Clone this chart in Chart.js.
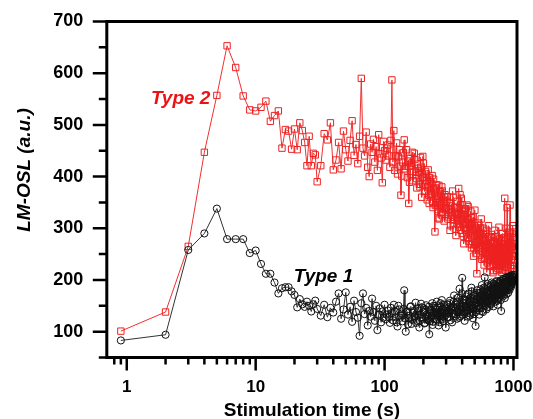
<!DOCTYPE html>
<html>
<head>
<meta charset="utf-8" />
<title>LM-OSL</title>
<script src="https://cdn.jsdelivr.net/npm/chart.js@4.4.0/dist/chart.umd.min.js"></script>
<style>
  html, body { margin: 0; padding: 0; background: #fff; }
  #wrap { width: 533px; height: 419px; }
</style>
</head>
<body>
<div id="wrap"><canvas id="osl" width="533" height="419"></canvas></div>
<script>
"use strict";

// stimulation time (s), shared by both curves
const stimTime = [
  0.9, 2, 3, 4, 5, 6, 7, 8, 9, 10, 11, 12, 13, 14, 15, 16, 17, 18, 19, 20,
  21, 22, 23, 24, 25, 26, 27, 28, 29, 30,
  32, 34, 36, 38, 40, 42, 44, 46, 48, 50, 52, 54, 56, 58, 60, 62, 64, 66, 68, 70,
  72, 74, 76, 78, 80, 82, 84, 86, 88, 90, 92, 94, 96, 98, 100,
  102, 104, 106, 108, 110, 112, 114, 116, 118, 120, 122, 124, 126, 128, 130, 132, 134, 136, 138, 140,
  142, 144, 146, 148, 150, 152, 154, 156, 158, 160, 162, 164, 166, 168, 170, 172, 174, 176, 178, 180,
  182, 184, 186, 188, 190, 192, 194, 196, 198, 200, 202, 204, 206, 208, 210, 212, 214, 216, 218, 220,
  222, 224, 226, 228, 230, 232, 234, 236, 238, 240, 242, 244, 246, 248, 250, 252, 254, 256, 258, 260,
  262, 264, 266, 268, 270, 272, 274, 276, 278, 280, 282, 284, 286, 288, 290, 292, 294, 296, 298,
  301, 304, 307, 310, 313, 316, 319, 322, 325, 328, 331, 334, 337, 340, 343, 346, 349, 352, 355, 358,
  361, 364, 367, 370, 373, 376, 379, 382, 385, 388, 391, 394, 397, 400, 403, 406, 409, 412, 415, 418,
  421, 424, 427, 430, 433, 436, 439, 442, 445, 448, 451, 454, 457, 460, 463, 466, 469, 472, 475, 478,
  481, 484, 487, 490, 493, 496, 499, 502, 505, 508, 511, 514, 517, 520, 523, 526, 529, 532, 535, 538,
  541, 544, 547, 550, 553, 556, 559, 562, 565, 568, 571, 574, 577, 580, 583, 586, 589, 592, 595, 598,
  601, 604, 607, 610, 613, 616, 619, 622, 625, 628, 631, 634, 637, 640, 643, 646, 649, 652, 655, 658,
  661, 664, 667, 670, 673, 676, 679, 682, 685, 688, 691, 694, 697, 700, 703, 706, 709, 712, 715, 718,
  721, 724, 727, 730, 733, 736, 739, 742, 745, 748, 751, 754, 757, 760, 763, 766, 769, 772, 775, 778,
  781, 784, 787, 790, 793, 796, 799, 802, 805, 808, 811, 814, 817, 820, 823, 826, 829, 832, 835, 838,
  841, 844, 847, 850, 853, 856, 859, 862, 865, 868, 871, 874, 877, 880, 883, 886, 889, 892, 895, 898,
  901, 904, 907, 910, 913, 916, 919, 922, 925, 928, 931, 934, 937, 940, 943, 946, 949, 952, 955, 958,
  961, 964, 967, 970, 973, 976, 979, 982, 985, 988, 991, 994, 997, 1000
];

const type1Signal = [
  83, 94, 258, 290, 338, 279, 279, 279, 252, 257, 231, 212, 212, 195, 174, 184, 186, 186, 178, 171,
  147, 163, 153, 148, 158, 150, 139, 153, 160, 144,
  131, 152, 128, 146, 137, 158, 174, 125, 143, 176, 133, 148, 119, 160, 138, 127, 92, 155, 174, 134,
  146, 112, 140, 129, 164, 138, 121, 150, 103, 133, 145, 118, 139, 127, 152,
  124, 133, 141, 128, 117, 146, 136, 122, 152, 139, 128, 118, 110, 150, 143, 127, 131, 135, 120, 144,
  180, 126, 100, 138, 139, 114, 126, 131, 148, 149, 115, 123, 137, 140, 129, 130, 156, 117, 121, 145,
  140, 132, 108, 121, 133, 154, 147, 128, 125, 137, 138, 116, 117, 142, 151, 133, 130, 125, 122, 148,
  95, 120, 143, 139, 128, 131, 155, 113, 119, 150, 136, 127, 146, 143, 124, 135, 158, 122, 132, 146,
  112, 130, 149, 118, 138, 155, 127, 137, 161, 124, 134, 144, 120, 129, 152, 136, 141, 147, 108,
  145, 136, 128, 152, 139, 128, 155, 160, 122, 143, 147, 118, 136, 149, 158, 170, 141, 134, 130, 145,
  152, 125, 138, 157, 166, 139, 127, 183, 149, 130, 141, 148, 174, 204, 133, 137, 155, 162, 146, 121,
  137, 150, 160, 168, 148, 140, 171, 129, 142, 174, 156, 147, 131, 158, 165, 135, 150, 185, 178, 152,
  144, 126, 158, 163, 134, 145, 170, 171, 152, 111, 138, 156, 163, 180, 175, 142, 149, 166, 160, 150,
  168, 133, 145, 175, 182, 160, 157, 147, 171, 190, 140, 155, 178, 138, 160, 170, 185, 162, 152, 205,
  166, 150, 183, 176, 158, 143, 175, 168, 147, 192, 188, 158, 170, 172, 162, 148, 180, 186, 155, 165,
  172, 178, 190, 153, 164, 195, 181, 168, 158, 160, 176, 184, 193, 149, 168, 175, 184, 190, 171, 163,
  189, 181, 167, 158, 180, 196, 198, 170, 175, 186, 162, 152, 188, 179, 177, 192, 195, 166, 170, 184,
  183, 174, 192, 198, 176, 161, 199, 140, 186, 188, 170, 177, 190, 193, 181, 168, 202, 185, 178, 200,
  194, 176, 185, 190, 173, 165, 200, 196, 189, 182, 196, 204, 181, 172, 205, 188, 190, 198, 186, 180,
  199, 192, 188, 175, 206, 203, 193, 186, 184, 196, 201, 181, 195, 205, 208, 190, 189, 198, 197, 187,
  203, 200, 195, 193, 209, 207, 198, 195, 206, 202, 201, 198, 210, 205
];

const type2Signal = [
  101, 138, 265, 447, 557, 653, 611, 556, 529, 527, 534, 546, 507, 518, 527, 455, 491, 488, 453, 492,
  452, 504, 489, 466, 421, 478, 421, 445, 442, 390,
  421, 483, 471, 504, 413, 432, 466, 415, 488, 452, 430, 470, 508, 441, 462, 425, 478, 590, 455, 440,
  486, 418, 400, 463, 447, 472, 428, 458, 412, 481, 444, 436, 388, 468, 450,
  432, 455, 461, 440, 418, 470, 587, 428, 489, 412, 440, 465, 405, 438, 452, 420, 364, 401, 428, 446,
  471, 415, 420, 452, 398, 430, 348, 389, 435, 420, 426, 447, 392, 410, 445, 433, 402, 396, 378, 424,
  416, 408, 385, 380, 437, 418, 360, 399, 439, 426, 398, 371, 372, 410, 405, 392, 355, 380, 413, 364,
  348, 398, 390, 372, 366, 387, 402, 350, 340, 395, 376, 368, 293, 344, 358, 378, 384, 352, 336, 320,
  362, 383, 318, 349, 371, 366, 345, 331, 380, 372, 330, 356, 352, 338, 314, 360, 365, 327, 340,
  338, 352, 361, 318, 322, 337, 349, 296, 305, 344, 330, 325, 372, 360, 316, 309, 341, 331, 298, 286,
  326, 340, 352, 315, 307, 377, 338, 302, 365, 328, 296, 358, 318, 290, 345, 322, 284, 270, 326, 335,
  300, 310, 338, 296, 289, 345, 317, 281, 342, 318, 275, 270, 308, 302, 291, 333, 320, 262, 268, 295,
  298, 312, 322, 246, 262, 284, 305, 335, 287, 268, 251, 300, 296, 212, 274, 289, 310, 276, 262, 306,
  285, 258, 248, 292, 301, 271, 266, 318, 290, 240, 255, 283, 278, 262, 243, 300, 288, 229, 264, 275,
  241, 252, 276, 290, 258, 268, 296, 215, 233, 280, 267, 246, 249, 305, 284, 259, 228, 237, 262, 272,
  270, 226, 238, 262, 255, 288, 282, 243, 229, 255, 261, 214, 247, 270, 218, 238, 274, 296, 240, 250,
  263, 232, 229, 266, 284, 245, 251, 218, 236, 281, 270, 240, 222, 256, 258, 228, 245, 302, 279, 247,
  238, 221, 265, 262, 226, 238, 252, 276, 281, 215, 235, 250, 260, 290, 219, 233, 271, 258, 246, 242,
  230, 268, 257, 226, 282, 358, 240, 248, 262, 275, 225, 218, 300, 262, 249, 236, 233, 340, 268, 252,
  252, 230, 224, 279, 270, 244, 238, 212, 292, 266, 247, 250, 263, 345, 216, 228, 275, 284, 251, 240,
  238, 262, 271, 222, 228, 290, 265, 246, 246, 305, 282, 258, 260, 299
];

const xTickValues = [1, 10, 100, 1000];
const xMinorValues = [0.8, 0.9, 2, 3, 4, 5, 6, 7, 8, 9, 20, 30, 40, 50, 60, 70, 80, 90,
  200, 300, 400, 500, 600, 700, 800, 900];
const yTickValues = [100, 200, 300, 400, 500, 600, 700];
const yMinorValues = [50, 150, 250, 350, 450, 550, 650];

const FONT = "'Liberation Sans', Arial, Helvetica, sans-serif";

function toPoints(values) {
  return stimTime.map((t, i) => ({ x: t, y: values[i] }));
}

// frame, tick marks of two lengths, axis titles and curve labels
const decorations = {
  id: "decorations",
  afterDraw(chart) {
    const { ctx, chartArea: a, scales } = chart;
    const x = scales.x;
    const y = scales.y;
    ctx.save();
    ctx.strokeStyle = "#000";
    ctx.lineWidth = 2.5;
    ctx.beginPath();
    yTickValues.forEach(v => {
      const py = y.getPixelForValue(v);
      ctx.moveTo(a.left - 14, py);
      ctx.lineTo(a.left, py);
    });
    yMinorValues.forEach(v => {
      const py = y.getPixelForValue(v);
      ctx.moveTo(a.left - 8, py);
      ctx.lineTo(a.left, py);
    });
    xTickValues.forEach(v => {
      const px = x.getPixelForValue(v);
      ctx.moveTo(px, a.bottom);
      ctx.lineTo(px, a.bottom + 13);
    });
    xMinorValues.forEach(v => {
      const px = x.getPixelForValue(v);
      ctx.moveTo(px, a.bottom);
      ctx.lineTo(px, a.bottom + 7);
    });
    ctx.stroke();

    ctx.lineWidth = 3;
    ctx.strokeRect(a.left, a.top, a.right - a.left, a.bottom - a.top);

    ctx.fillStyle = "#000";
    ctx.textAlign = "center";
    ctx.textBaseline = "alphabetic";
    ctx.font = "bold 19px " + FONT;
    ctx.fillText("Stimulation time (s)", (a.left + a.right) / 2, 416);

    ctx.save();
    ctx.translate(30, 170);
    ctx.rotate(-Math.PI / 2);
    ctx.font = "italic bold 19px " + FONT;
    ctx.fillText("LM-OSL (a.u.)", 0, 0);
    ctx.restore();

    ctx.textAlign = "left";
    ctx.font = "italic bold 19px " + FONT;
    ctx.fillStyle = "#ee1111";
    ctx.fillText("Type 2", x.getPixelForValue(1.54), y.getPixelForValue(540));
    ctx.fillStyle = "#000";
    ctx.fillText("Type 1", x.getPixelForValue(19.75), y.getPixelForValue(197));
    ctx.restore();
  }
};

const tickFont = size => ({ family: FONT, size: size, weight: "bold" });

new Chart(document.getElementById("osl").getContext("2d"), {
  type: "line",
  data: {
    datasets: [
      {
        label: "Type 1",
        data: toPoints(type1Signal),
        borderColor: "#333",
        borderWidth: 1,
        pointStyle: "circle",
        pointRadius: 3.6,
        pointBorderWidth: 1,
        pointBorderColor: "#111",
        pointBackgroundColor: "rgba(0,0,0,0)",
        tension: 0,
        fill: false
      },
      {
        label: "Type 2",
        data: toPoints(type2Signal),
        borderColor: "#f03030",
        borderWidth: 1,
        pointStyle: "rect",
        pointRadius: 4.5,
        pointBorderWidth: 1,
        pointBorderColor: "#ee2222",
        pointBackgroundColor: "rgba(0,0,0,0)",
        tension: 0,
        fill: false
      }
    ]
  },
  options: {
    responsive: false,
    animation: false,
    events: [],
    layout: { padding: { top: 21.5, right: 16, left: 0, bottom: 0 } },
    plugins: { legend: { display: false }, tooltip: { enabled: false } },
    scales: {
      x: {
        type: "logarithmic",
        min: 0.74,
        max: 1065,
        grid: { display: false, drawTicks: false },
        border: { display: false },
        ticks: {
          font: tickFont(17),
          color: "#000",
          padding: 20,
          maxRotation: 0,
          autoSkip: false,
          callback: v => String(v)
        },
        afterBuildTicks: s => {
          s.ticks = xTickValues.map(v => ({ value: v }));
        },
        afterFit: s => {
          s.height = 61.5;
          s.paddingLeft = 0;
          s.paddingRight = 0;
        }
      },
      y: {
        min: 50,
        max: 700,
        grid: { display: false, drawTicks: false },
        border: { display: false },
        ticks: {
          font: tickFont(18),
          color: "#000",
          padding: 23.5,
          autoSkip: false,
          callback: v => String(v)
        },
        afterBuildTicks: s => {
          s.ticks = yTickValues.map(v => ({ value: v }));
        },
        afterFit: s => {
          s.width = 106.8;
          s.paddingTop = 0;
          s.paddingBottom = 0;
        }
      }
    }
  },
  plugins: [decorations]
});
</script>
</body>
</html>
